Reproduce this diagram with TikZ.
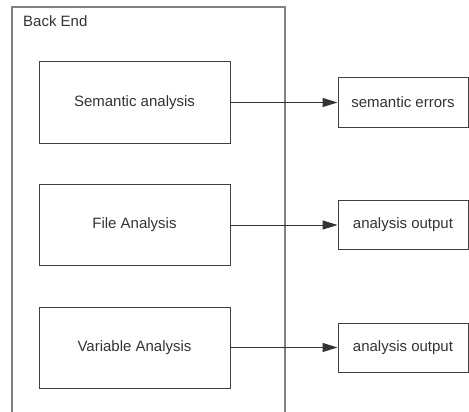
\documentclass[tikz,border=0pt]{standalone}
\usepackage{fontspec}
\setmainfont{Liberation Sans}
\usetikzlibrary{arrows.meta}
\definecolor{frameg}{HTML}{808080}
\definecolor{boxg}{HTML}{404040}
\definecolor{txtg}{HTML}{333333}
\tikzset{
  stagebox/.style={draw=boxg, line width=1pt, minimum width=191pt, minimum height=81pt,
    inner sep=0pt, text=txtg, font=\fontsize{15}{18}\selectfont},
  outbox/.style={draw=boxg, line width=1pt, minimum width=130pt, minimum height=49pt,
    inner sep=0pt, text=txtg, font=\fontsize{15}{18}\selectfont},
  flow/.style={draw=txtg, line width=1pt, -{Triangle[length=15pt,width=9pt]}},
}
\begin{document}
\begin{tikzpicture}[x=1pt,y=-1pt]
\useasboundingbox (0,0) rectangle (469,412);
% open-bottomed back end frame
\draw[frameg, line width=1.2pt] (12,413) -- (12,7) -- (285,7) -- (285,413);
\node[anchor=base west, inner sep=0pt, text=txtg, font=\fontsize{15}{18}\selectfont] (title) at (23,26.5) {Back End};

\node[stagebox] (sem) at (134.5,102.5) {Semantic analysis};
\node[stagebox] (file) at (134.5,225) {File Analysis};
\node[stagebox] (var) at (134.5,347.5) {Variable Analysis};

\node[outbox] (semout) at (403,102.5) {semantic errors};
\node[outbox] (fileout) at (403,225) {analysis output};
\node[outbox] (varout) at (403,347.5) {analysis output};

\draw[flow] (sem) -- (semout);
\draw[flow] (file) -- (fileout);
\draw[flow] (var) -- (varout);
\end{tikzpicture}
\end{document}
